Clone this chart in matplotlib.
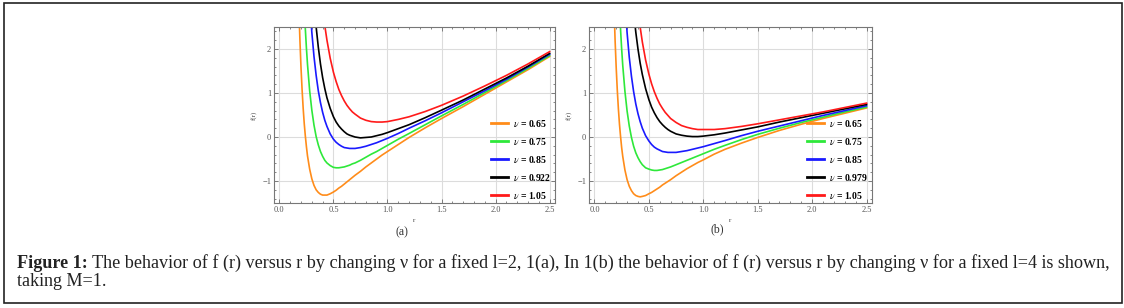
import matplotlib
matplotlib.use("Agg")
import matplotlib.pyplot as plt
from matplotlib.ticker import MultipleLocator
from matplotlib.patches import Rectangle

plt.rcParams['font.family'] = ['Liberation Serif', 'DejaVu Serif']
plt.rcParams['mathtext.fontset'] = 'stix'

# r values where the curves were read
r = [0.17, 0.18, 0.19, 0.20, 0.21, 0.22, 0.23, 0.24, 0.25, 0.26, 0.28, 0.30,
     0.32, 0.34, 0.36, 0.38, 0.40, 0.42, 0.44, 0.47, 0.50, 0.525, 0.55, 0.575,
     0.60, 0.625, 0.65, 0.675, 0.70, 0.75, 0.80, 0.85, 0.90, 0.95, 1.00, 1.10,
     1.20, 1.35, 1.50, 1.70, 1.90, 2.10, 2.30, 2.50]

# panel (a), l=2
f_a_065 = [3.86, 2.94, 2.19, 1.57, 1.07, 0.65, 0.30, 0.02, -0.22, -0.43, -0.73, -0.95,
           -1.10, -1.20, -1.26, -1.30, -1.32, -1.32, -1.32, -1.29, -1.25, -1.21, -1.16, -1.12,
           -1.07, -1.02, -0.97, -0.92, -0.87, -0.78, -0.68, -0.59, -0.50, -0.41, -0.33, -0.17,
           -0.01, 0.21, 0.42, 0.69, 0.97, 1.25, 1.53, 1.83]
f_a_075 = [8.71, 7.26, 6.07, 5.07, 4.24, 3.54, 2.95, 2.45, 2.02, 1.65, 1.05, 0.61,
           0.27, 0.01, -0.18, -0.33, -0.44, -0.53, -0.59, -0.65, -0.69, -0.70, -0.70, -0.69,
           -0.68, -0.66, -0.64, -0.61, -0.59, -0.53, -0.46, -0.39, -0.33, -0.26, -0.19, -0.05,
           0.08, 0.28, 0.48, 0.74, 1.01, 1.28, 1.56, 1.85]
f_a_085 = [14.24, 12.20, 10.50, 9.07, 7.87, 6.85, 5.98, 5.22, 4.58, 4.01, 3.09, 2.38,
           1.83, 1.40, 1.05, 0.78, 0.56, 0.38, 0.24, 0.07, -0.05, -0.12, -0.17, -0.21,
           -0.24, -0.25, -0.26, -0.26, -0.26, -0.24, -0.21, -0.17, -0.13, -0.08, -0.03, 0.08,
           0.20, 0.37, 0.55, 0.80, 1.05, 1.31, 1.59, 1.88]
f_a_0922 = [18.66, 16.13, 14.03, 12.26, 10.76, 9.49, 8.39, 7.44, 6.62, 5.90, 4.72, 3.80,
            3.08, 2.50, 2.04, 1.66, 1.35, 1.10, 0.89, 0.65, 0.46, 0.34, 0.25, 0.18,
            0.12, 0.07, 0.04, 0.02, 0.00, -0.02, -0.01, 0.00, 0.03, 0.06, 0.10, 0.19,
            0.28, 0.44, 0.61, 0.84, 1.09, 1.34, 1.61, 1.90]
f_a_105 = [27.39, 23.93, 21.02, 18.57, 16.49, 14.70, 13.16, 11.82, 10.66, 9.63, 7.94, 6.61,
           5.54, 4.69, 3.98, 3.41, 2.93, 2.53, 2.20, 1.79, 1.47, 1.26, 1.08, 0.94,
           0.82, 0.72, 0.64, 0.57, 0.52, 0.43, 0.38, 0.35, 0.34, 0.34, 0.35, 0.40,
           0.46, 0.58, 0.72, 0.93, 1.16, 1.40, 1.66, 1.94]

# panel (b), l=4
f_b_065 = [3.86, 2.93, 2.18, 1.57, 1.06, 0.64, 0.29, 0.01, -0.24, -0.44, -0.75, -0.97,
           -1.12, -1.22, -1.29, -1.33, -1.35, -1.36, -1.35, -1.33, -1.29, -1.26, -1.22, -1.18,
           -1.14, -1.09, -1.05, -1.01, -0.97, -0.88, -0.80, -0.72, -0.65, -0.58, -0.52, -0.39,
           -0.28, -0.14, -0.01, 0.15, 0.29, 0.42, 0.54, 0.66]
f_b_075 = [8.70, 7.25, 6.06, 5.07, 4.23, 3.53, 2.94, 2.44, 2.00, 1.63, 1.04, 0.59,
           0.25, -0.01, -0.21, -0.36, -0.47, -0.56, -0.63, -0.70, -0.73, -0.75, -0.76, -0.76,
           -0.75, -0.74, -0.72, -0.70, -0.68, -0.63, -0.58, -0.53, -0.48, -0.43, -0.38, -0.28,
           -0.19, -0.06, 0.06, 0.20, 0.33, 0.45, 0.57, 0.68]
f_b_085 = [14.24, 12.19, 10.49, 9.07, 7.86, 6.84, 5.97, 5.21, 4.56, 4.00, 3.08, 2.37,
           1.81, 1.38, 1.03, 0.75, 0.53, 0.35, 0.20, 0.03, -0.09, -0.17, -0.23, -0.27,
           -0.30, -0.33, -0.34, -0.35, -0.35, -0.35, -0.33, -0.31, -0.28, -0.25, -0.22, -0.15,
           -0.08, 0.03, 0.13, 0.25, 0.37, 0.49, 0.60, 0.71]
f_b_0979 = [22.40, 19.47, 17.03, 14.96, 13.21, 11.71, 10.43, 9.31, 8.34, 7.49, 6.09, 4.99,
            4.12, 3.42, 2.85, 2.38, 2.00, 1.68, 1.42, 1.10, 0.85, 0.68, 0.55, 0.44,
            0.35, 0.28, 0.22, 0.17, 0.13, 0.07, 0.04, 0.02, 0.01, 0.01, 0.02, 0.05,
            0.09, 0.16, 0.23, 0.34, 0.44, 0.54, 0.64, 0.74]
f_b_105 = [27.39, 23.92, 21.02, 18.57, 16.48, 14.69, 13.15, 11.81, 10.64, 9.62, 7.92, 6.59,
           5.52, 4.66, 3.96, 3.38, 2.90, 2.50, 2.16, 1.75, 1.43, 1.21, 1.03, 0.88,
           0.75, 0.65, 0.56, 0.49, 0.42, 0.33, 0.26, 0.22, 0.19, 0.17, 0.17, 0.17,
           0.19, 0.24, 0.30, 0.39, 0.48, 0.57, 0.67, 0.77]

nu_a = ['0.65', '0.75', '0.85', '0.922', '1.05']
nu_b = ['0.65', '0.75', '0.85', '0.979', '1.05']
colors = ['#ff8c1a', '#2ee83a', '#1a1aff', '#000000', '#ff1a1a']

W, H = 1124, 308
fig = plt.figure(figsize=(W / 100, H / 100), dpi=100)

def make_panel(rect, curves, nus):
    ax = fig.add_axes(rect)
    for f, nu, c in zip(curves, nus, colors):
        ax.plot(r, f, color=c, lw=1.2, label=r'$\nu$ = ' + nu)
    ax.set_xlim(-0.05, 2.55)
    ax.set_ylim(-1.5, 2.5)
    ax.xaxis.set_major_locator(MultipleLocator(0.5))
    ax.xaxis.set_minor_locator(MultipleLocator(0.1))
    ax.yaxis.set_major_locator(MultipleLocator(1))
    ax.yaxis.set_minor_locator(MultipleLocator(0.2))
    ax.xaxis.set_major_formatter(lambda v, p: '%.1f' % v)
    ax.yaxis.set_major_formatter(lambda v, p: ('\u2212%d' % -v) if v < 0 else '%d' % v)
    ax.grid(True, which='major', color='#dcdcdc', lw=0.8)
    ax.set_axisbelow(True)
    ax.tick_params(which='both', direction='in', top=True, right=True,
                   colors='#555555', labelsize=6, width=0.5, pad=2)
    ax.tick_params(which='major', length=3)
    ax.tick_params(which='minor', length=1.5)
    for s in ax.spines.values():
        s.set_color('#777777')
        s.set_linewidth(0.8)
    ax.set_xlabel('r', fontsize=5, color='#444444', labelpad=3)
    ax.set_ylabel('f(r)', fontsize=5, color='#444444', labelpad=4)
    leg = ax.legend(loc='upper left', bbox_to_anchor=(0.772, 0.485), frameon=False,
                    borderpad=0, borderaxespad=0, handlelength=1.75, handletextpad=0.5,
                    labelspacing=0.72, prop={'family': 'Liberation Serif', 'weight': 'bold', 'size': 7})
    for ln in leg.get_lines():
        ln.set_linewidth(2)
    return ax

ax_a = make_panel([274 / W, 105 / H, 281 / W, 176 / H],
                  [f_a_065, f_a_075, f_a_085, f_a_0922, f_a_105], nu_a)
ax_b = make_panel([589 / W, 105 / H, 283 / W, 176 / H],
                  [f_b_065, f_b_075, f_b_085, f_b_0979, f_b_105], nu_b)

fig.text(402 / W, 1 - 232 / H, '(a)', fontsize=8.5, ha='center', va='center', color='#333333')
fig.text(717 / W, 1 - 229 / H, '(b)', fontsize=8.5, ha='center', va='center', color='#333333')

# caption
cap_size = 13.1
y1, y2 = 1 - 268 / H, 1 - 286 / H
t1 = fig.text(17 / W, y1, 'Figure 1:', fontsize=cap_size, fontweight='bold',
              va='baseline', color='#222222')
fig.canvas.draw()
bb = t1.get_window_extent()
fig.text(bb.x1 / W + 4 / W, y1,
         'The behavior of f (r) versus r by changing ν for a fixed l=2, 1(a), In 1(b) the behavior '
         'of f (r) versus r by changing ν for a fixed l=4 is shown,',
         fontsize=cap_size, va='baseline', color='#222222')
fig.text(17 / W, y2, 'taking M=1.', fontsize=cap_size, va='baseline', color='#222222')

fig.patches.append(Rectangle((4 / W, 1 - 302.5 / H), 1118 / W, 299.5 / H,
                             transform=fig.transFigure, fill=False, edgecolor='#222222', lw=1.2))

fig.savefig('out.png', dpi=100)
